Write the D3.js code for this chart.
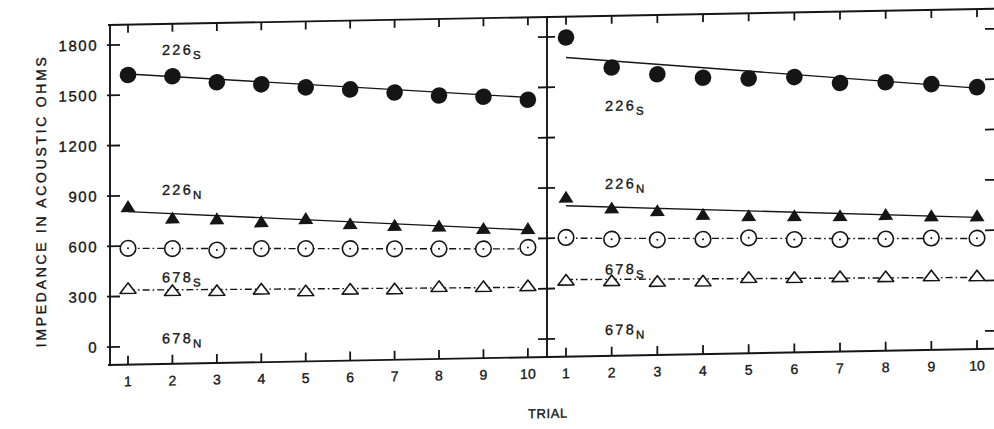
<!DOCTYPE html>
<html><head><meta charset="utf-8">
<script src="https://cdn.jsdelivr.net/npm/d3@7"></script>
<style>body{margin:0;background:#fff}svg{display:block}</style>
</head><body>
<svg id="c" width="994" height="429"></svg>
<script>
// ---------- data ----------
const trials = [1,2,3,4,5,6,7,8,9,10];
const yTicks = [0,300,600,900,1200,1500,1800];
const yTitle = "IMPEDANCE IN ACOUSTIC OHMS";
const xTitle = "TRIAL";

// left panel
const leftS226 = [1619,1607,1566,1549,1526,1509,1486,1463,1451,1428];
const leftN226 = [838,765,755,733,747,712,697,688,669,663];
const leftS678 = [586,580,566,570,565,560,554,549,544,548];
const leftN678 = [349,332,327,331,316,321,318,327,322,322];
const leftFitS226 = [1625,1442];
const leftFitN226 = [805,652];
const leftFitS678 = [586,539];
const leftFitN678 = [337,310];

// right panel
const rightS226 = [1795,1611,1566,1540,1531,1534,1494,1493,1477,1454];
const rightN226 = [846,777,756,729,716,711,706,708,695,690];
const rightS678 = [603,588,579,577,581,566,561,559,560,554];
const rightN678 = [351,343,334,331,347,342,342,337,337,332];
const rightFitS226 = [1676,1448];
const rightFitN226 = [792,678];
const rightFitS678 = [598,552];
const rightFitN678 = [352,320];

// series labels: [number, subscript]
const labelNames = [["226","S"],["226","N"],["678","S"],["678","N"]];

// ---------- layout ----------
const TOP = 25, BOT = 365;
const y = d3.scaleLinear().domain([0,1800]).range([347,45]);
const panels = [
  {x: d3.scaleLinear().domain([0.595,10.43]).range([110,547]),
   series: [leftS226,leftN226,leftS678,leftN678],
   fits: [leftFitS226,leftFitN226,leftFitS678,leftFitN678],
   labelX: 162, labelY: [56,196,283.5,344.5]},
  {x: d3.scaleLinear().domain([0.584,10.394]).range([547,995]),
   series: [rightS226,rightN226,rightS678,rightN678],
   fits: [rightFitS226,rightFitN226,rightFitS678,rightFitN678],
   labelX: 605, labelY: [120,198,283.5,344]}
];
const markerKind = ["fcircle","ftri","ocircle","otri"];
const lineDash = [null,null,"7,3,1.6,3","7,3,1.6,3"];

const svg = d3.select("#c");
svg.append("rect").attr("width",994).attr("height",429).attr("fill","#fff");
const g = svg.append("g")
  .attr("transform","translate(110,0) skewY(-1.05) translate(-110,0)");

const ink = "#151515";
const FONT = "'Liberation Sans', Arial, Helvetica, sans-serif";
const textStroke = sel => sel.attr("stroke",ink).attr("stroke-width",0.35);

// frame
const frame = g.append("g").attr("stroke",ink).attr("stroke-width",1.9).attr("fill","none");
frame.append("line").attr("x1",108).attr("x2",996).attr("y1",TOP).attr("y2",TOP);
frame.append("line").attr("x1",108).attr("x2",996).attr("y1",BOT).attr("y2",BOT);
[110,547,995].forEach(xx=>{
  frame.append("line").attr("x1",xx).attr("x2",xx).attr("y1",TOP).attr("y2",BOT);
});

// y ticks on the three vertical axes
const tickSpecs = [[107,120],[538,555],[985,995]];
tickSpecs.forEach(([a,b])=>{
  g.append("g").selectAll("line").data(yTicks).join("line")
    .attr("x1",a).attr("x2",b)
    .attr("y1",d=>y(d)).attr("y2",d=>y(d))
    .attr("stroke",ink).attr("stroke-width",1.8);
});

// y tick labels
g.append("g").selectAll("text").data(yTicks).join("text")
  .attr("x",98).attr("y",d=>y(d)).attr("dy","0.36em")
  .attr("text-anchor","end")
  .attr("font-family",FONT).attr("font-size",15).attr("letter-spacing",1.5)
  .attr("fill",ink).call(textStroke).text(d=>d);

// y title
g.append("text")
  .attr("transform","rotate(-90)")
  .attr("x",-201).attr("y",46.5)
  .attr("text-anchor","middle")
  .attr("font-family",FONT).attr("font-size",14)
  .attr("textLength",290).attr("lengthAdjust","spacing")
  .attr("fill",ink).call(textStroke).text(yTitle);

// x title
g.append("text").attr("x",548).attr("y",426).attr("text-anchor","middle")
  .attr("font-family",FONT).attr("font-size",13).attr("letter-spacing",0.6)
  .attr("fill",ink).call(textStroke).text(xTitle);

const triPath = (w,h)=>`M0,${-h/2}L${w/2},${h/2}L${-w/2},${h/2}Z`;

panels.forEach(p=>{
  const x = p.x;
  // top & bottom ticks
  g.append("g").selectAll("line").data(trials).join("line")
    .attr("x1",d=>x(d)).attr("x2",d=>x(d)).attr("y1",TOP).attr("y2",TOP+8)
    .attr("stroke",ink).attr("stroke-width",1.8);
  g.append("g").selectAll("line").data(trials).join("line")
    .attr("x1",d=>x(d)).attr("x2",d=>x(d)).attr("y1",BOT).attr("y2",BOT-9)
    .attr("stroke",ink).attr("stroke-width",1.8);
  // x tick labels
  g.append("g").selectAll("text").data(trials).join("text")
    .attr("x",d=>x(d)).attr("y",386.5).attr("text-anchor","middle")
    .attr("font-family",FONT).attr("font-size",14)
    .attr("fill",ink).call(textStroke).text(d=>d);

  // fitted lines
  p.fits.forEach((f,i)=>{
    const ln = g.append("line")
      .attr("x1",x(trials[0])).attr("x2",x(trials[trials.length-1]))
      .attr("y1",y(f[0])).attr("y2",y(f[1]))
      .attr("stroke",ink).attr("stroke-width",1.4);
    if(lineDash[i]) ln.attr("stroke-dasharray",lineDash[i]);
  });

  // markers
  p.series.forEach((vals,i)=>{
    const kind = markerKind[i];
    const mg = g.append("g");
    const pts = vals.map((v,j)=>({t:trials[j],v}));
    if(kind==="fcircle"){
      mg.selectAll("circle").data(pts).join("circle")
        .attr("cx",d=>x(d.t)).attr("cy",d=>y(d.v)).attr("r",8.3).attr("fill",ink);
    } else if(kind==="ocircle"){
      mg.selectAll("circle.o").data(pts).join("circle").attr("class","o")
        .attr("cx",d=>x(d.t)).attr("cy",d=>y(d.v)).attr("r",7.8)
        .attr("fill","#fff").attr("stroke",ink).attr("stroke-width",1.6);
      mg.selectAll("circle.d").data(pts).join("circle").attr("class","d")
        .attr("cx",d=>x(d.t)).attr("cy",d=>y(d.v)).attr("r",1).attr("fill",ink);
    } else if(kind==="ftri"){
      mg.selectAll("path").data(pts).join("path")
        .attr("d",triPath(15,12))
        .attr("transform",d=>`translate(${x(d.t)},${y(d.v)})`)
        .attr("fill",ink);
    } else {
      mg.selectAll("path").data(pts).join("path")
        .attr("d",triPath(16,10.5))
        .attr("transform",d=>`translate(${x(d.t)},${y(d.v)})`)
        .attr("fill","#fff").attr("stroke",ink).attr("stroke-width",1.6)
        .attr("stroke-linejoin","round");
    }
  });

  // series labels
  labelNames.forEach(([num,sub],i)=>{
    const t = g.append("text").attr("x",p.labelX).attr("y",p.labelY[i])
      .attr("font-family",FONT).attr("font-size",14.5).attr("letter-spacing",2.3)
      .attr("fill",ink).call(textStroke);
    t.append("tspan").text(num);
    t.append("tspan").attr("font-size",11.5).attr("dy",4.5).attr("letter-spacing",0).text(sub);
  });
});
</script>
</body></html>
